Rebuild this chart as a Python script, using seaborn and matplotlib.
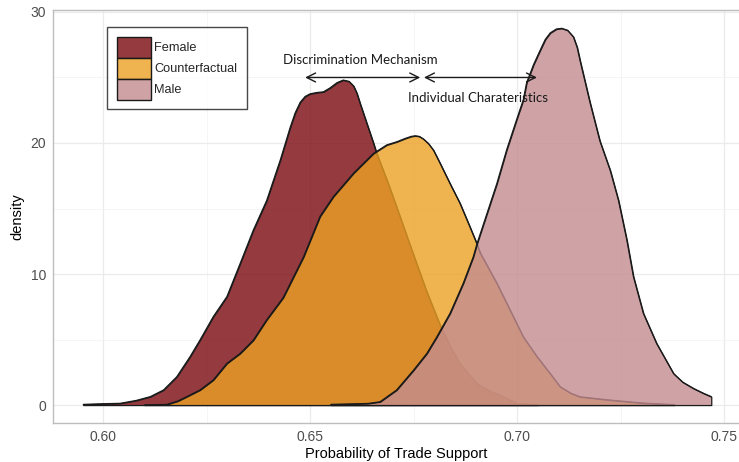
import matplotlib
matplotlib.use("Agg")
import matplotlib.pyplot as plt
from matplotlib.ticker import MultipleLocator, FormatStrFormatter
import pandas as pd
import seaborn as sns
from matplotlib.colors import to_rgba
from matplotlib.patches import Patch

# Estimated density curves of the predicted probability of trade support
groups = ["Female", "Counterfactual", "Male"]

female_x = [0.5952, 0.6000, 0.6041, 0.6080, 0.6114, 0.6146, 0.6178, 0.6210,
            0.6234, 0.6266, 0.6299, 0.6331, 0.6363, 0.6395, 0.6428, 0.6452,
            0.6464, 0.6476, 0.6488, 0.6500, 0.6516, 0.6532, 0.6548, 0.6565,
            0.6580, 0.6594, 0.6605, 0.6613, 0.6621, 0.6637, 0.6653, 0.6661,
            0.6690, 0.6717, 0.6746, 0.6780, 0.6814, 0.6840, 0.6862, 0.6903,
            0.6935, 0.6967, 0.6999, 0.7050]
female_y = [0.05, 0.10, 0.13, 0.35, 0.64, 1.15, 2.16, 3.69,
            4.96, 6.74, 8.27, 10.8, 13.36, 15.6, 18.7, 21.2,
            22.3, 23.1, 23.55, 23.75, 23.85, 23.9, 24.2, 24.6,
            24.8, 24.7, 24.35, 23.8, 23.0, 21.5, 20.0, 19.2,
            16.8, 14.4, 11.8, 8.8, 6.1, 4.4, 3.18, 1.65,
            1.05, 0.64, 0.13, 0.02]

counter_x = [0.6100, 0.6154, 0.6180, 0.6202, 0.6234, 0.6266, 0.6299, 0.6331,
             0.6363, 0.6395, 0.6435, 0.6484, 0.6524, 0.6556, 0.6605, 0.6653,
             0.6685, 0.6710, 0.6730, 0.6744, 0.6754, 0.6764, 0.6774, 0.6786,
             0.6798, 0.6814, 0.6838, 0.6862, 0.6886, 0.6903, 0.6911, 0.6951,
             0.6983, 0.7015, 0.7048, 0.7080, 0.7104, 0.7130, 0.7152, 0.7225,
             0.7305, 0.7380]
counter_y = [0.01, 0.05, 0.30, 0.64, 1.15, 1.91, 3.18, 3.94,
             4.96, 6.50, 8.20, 11.3, 14.4, 15.9, 17.7, 19.2,
             19.85, 20.1, 20.35, 20.5, 20.55, 20.5, 20.3, 19.95,
             19.45, 18.45, 16.9, 15.4, 13.6, 12.3, 11.6, 9.3,
             7.25, 5.2, 3.7, 2.4, 1.4, 0.9, 0.63, 0.38,
             0.15, 0.03]

male_x = [0.6550, 0.6640, 0.6669, 0.6709, 0.6750, 0.6782, 0.6806, 0.6838,
          0.6870, 0.6894, 0.6903, 0.6927, 0.6951, 0.6975, 0.6999, 0.7015,
          0.7023, 0.7040, 0.7056, 0.7068, 0.7080, 0.7095, 0.7108, 0.7122,
          0.7136, 0.7145, 0.7152, 0.7176, 0.7200, 0.7225, 0.7245, 0.7265,
          0.7281, 0.7305, 0.7337, 0.7378, 0.7400, 0.7426, 0.7450, 0.7469]
male_y = [0.05, 0.12, 0.25, 1.15, 2.67, 3.94, 5.2, 7.0,
          9.3, 11.3, 12.3, 14.6, 16.9, 19.5, 21.8, 23.3,
          24.6, 26.0, 27.1, 27.9, 28.4, 28.7, 28.75, 28.6,
          28.1, 27.3, 26.3, 23.1, 20.15, 17.9, 15.6, 12.6,
          9.8, 7.0, 4.7, 2.4, 1.75, 1.27, 0.9, 0.64]

fill_colors = ["#7B0A10", "#EBA124", "#C48C90"]

curves = {
    "Female": (female_x, female_y),
    "Counterfactual": (counter_x, counter_y),
    "Male": (male_x, male_y),
}
df = pd.concat(
    [pd.DataFrame({"x": xs, "density": ys, "group": g}) for g, (xs, ys) in curves.items()],
    ignore_index=True,
)

sns.set_theme(style="whitegrid")
plt.rcParams["font.family"] = ["Liberation Sans", "DejaVu Sans"]

fig = plt.figure(figsize=(7.39, 4.62), dpi=100)
ax = fig.add_axes([53 / 739, 1 - 423 / 462, 686 / 739, 413 / 462])
ax.set_facecolor("white")

for z, (name, color) in enumerate(zip(groups, fill_colors)):
    sub = df[df["group"] == name]
    ax.fill_between(sub["x"], 0, sub["density"], facecolor=to_rgba(color, 0.8),
                    edgecolor="#1a1a1a", linewidth=0.9, joinstyle="round",
                    zorder=2 + z)
    sns.lineplot(data=sub, x="x", y="density", color="#1a1a1a", linewidth=0.9,
                 ax=ax, legend=False, zorder=2 + z, sort=True,
                 solid_joinstyle="round", solid_capstyle="round")

ax.set_xlim(0.5879, 0.7536)
ax.set_ylim(-1.37, 30.15)
ax.xaxis.set_major_locator(MultipleLocator(0.05))
ax.xaxis.set_minor_locator(MultipleLocator(0.025))
ax.yaxis.set_major_locator(MultipleLocator(10))
ax.yaxis.set_minor_locator(MultipleLocator(5))
ax.xaxis.set_major_formatter(FormatStrFormatter("%.2f"))
ax.grid(which="major", color="#EBEBEB", linewidth=0.9, zorder=0)
ax.grid(which="minor", color="#F2F2F2", linewidth=0.5, zorder=0)
ax.set_axisbelow(True)
ax.tick_params(axis="both", which="both", length=0, labelsize=10, colors="#4D4D4D")
ax.tick_params(axis="x", pad=5)
ax.tick_params(axis="y", pad=5)

for side in ["left", "bottom", "top"]:
    ax.spines[side].set_visible(True)
    ax.spines[side].set_color("#BDBDBD")
    ax.spines[side].set_linewidth(1.0)
ax.spines["right"].set_visible(False)

ax.set_xlabel("Probability of Trade Support", fontsize=10.5, color="black", labelpad=2)
ax.set_ylabel("density", fontsize=10.5, color="black", labelpad=4)

# Decomposition arrows
arrow_kw = dict(arrowstyle="<->", color="#1a1a1a", lw=1.0, mutation_scale=16,
                shrinkA=0, shrinkB=0)
ax.annotate("", xy=(0.6766, 25.0), xytext=(0.6488, 25.0), arrowprops=arrow_kw, zorder=10)
ax.annotate("", xy=(0.7048, 25.0), xytext=(0.6775, 25.0), arrowprops=arrow_kw, zorder=10)
ax.text(0.6622, 26.3, "Discrimination Mechanism", ha="center", va="center",
        fontsize=9.5, family=["Lato", "DejaVu Sans"], color="#1a1a1a", zorder=10)
ax.text(0.6906, 23.4, "Individual Charateristics", ha="center", va="center",
        fontsize=9.5, family=["Lato", "DejaVu Sans"], color="#1a1a1a", zorder=10)

handles = [Patch(facecolor=to_rgba(c, 0.8), edgecolor="#1a1a1a", linewidth=1.0)
           for c in fill_colors]
leg = ax.legend(handles, groups, loc="upper left", bbox_to_anchor=(0.0787, 0.9588),
                borderaxespad=0, frameon=True, fancybox=False, fontsize=9.2,
                handlelength=2.7, handleheight=2.15, labelspacing=0.0,
                handletextpad=0.25, borderpad=0.75)
leg.get_frame().set_edgecolor("#1a1a1a")
leg.get_frame().set_linewidth(1.0)
leg.set_zorder(20)

fig.savefig("out.png", dpi=100)
